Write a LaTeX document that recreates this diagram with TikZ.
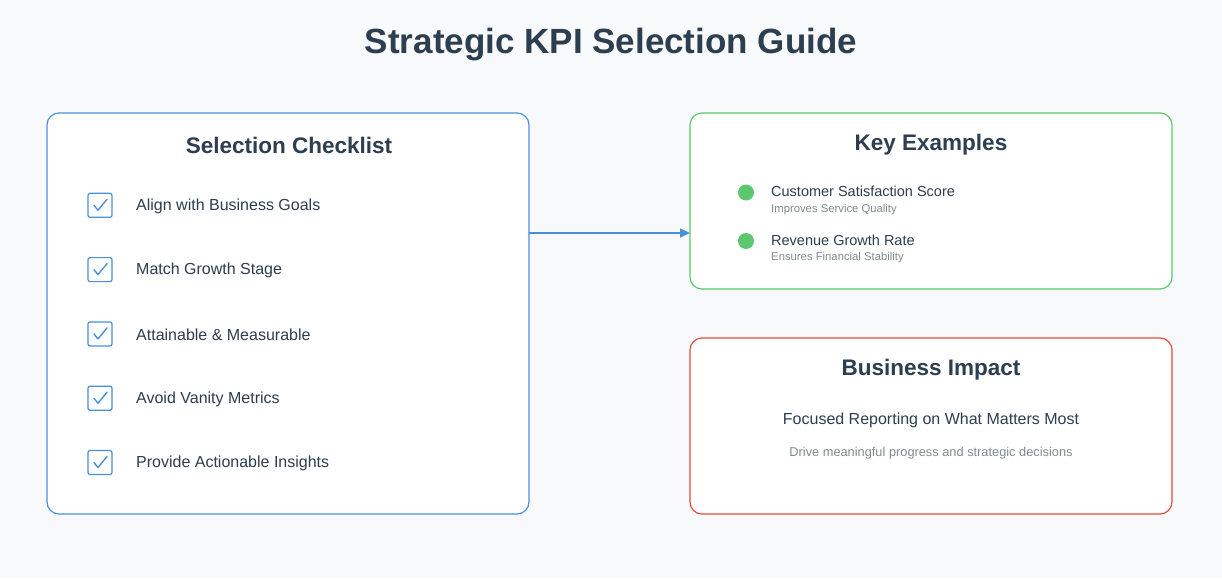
\documentclass[tikz,border=0pt]{standalone}
\usepackage{fontspec}
\setmainfont{Liberation Sans}
\usetikzlibrary{arrows.meta}
\definecolor{ink}{HTML}{2C3E50}
\definecolor{bluec}{HTML}{4A90D9}
\definecolor{greenc}{HTML}{5CC86E}
\definecolor{redc}{HTML}{E34C3C}
\definecolor{greyc}{HTML}{7F8C8D}
\definecolor{bgc}{HTML}{F8F9FA}
\tikzset{
  panel/.style={draw=#1, line width=1.2pt, rounded corners=12pt, fill=white},
  heading/.style={font=\fontsize{22.5}{26}\selectfont\bfseries, text=ink},
  item/.style={anchor=west, inner sep=0pt, font=\fontsize{16}{19}\selectfont, text=ink},
  tick/.style={draw=bluec, line width=1.2pt, rounded corners=2pt, minimum size=24pt, inner sep=0pt},
}
\begin{document}
\begin{tikzpicture}[x=1pt,y=-1pt]
    \fill[bgc] (0,0) rectangle (1222,578);
    \useasboundingbox (0,0) rectangle (1222,578);
    \node[font=\fontsize{35}{40}\selectfont\bfseries, text=ink] (title) at (611,45) {Strategic KPI Selection Guide};

    % checklist panel
    \draw[panel=bluec] (47,113) rectangle (529,514);
    \coordinate (checkR) at (529,233);
    \node[heading] (checkT) at (289,145) {Selection Checklist};
    \foreach \t [count=\i] in {Align with Business Goals, Match Growth Stage, Attainable \& Measurable, Avoid Vanity Metrics, Provide Actionable Insights} {
        \node[tick] (box\i) at (100,141+64.3*\i) {};
        \draw[bluec, line width=1.4pt, line cap=round, line join=round] ([shift={(-6,0)}]box\i.center) -- ++(4,5) -- ++(9,-11);
        \node[item] (chk\i) at (136,142+64.3*\i) {\t};
    }

    % examples panel
    \draw[panel=greenc] (690,113) rectangle (1172,289);
    \coordinate (exL) at (690,233);
    \node[heading] (exT) at (931,145) {Key Examples};
    \foreach \t/\s [count=\i] in {Customer Satisfaction Score/Improves Service Quality, Revenue Growth Rate/Ensures Financial Stability} {
        \fill[greenc] (746,144+48.5*\i) circle (8);
        \node[anchor=west, inner sep=0pt, font=\fontsize{14.5}{17}\selectfont, text=ink] (ex\i) at (771,143+48.5*\i) {\t};
        \node[anchor=west, inner sep=0pt, font=\fontsize{11.3}{13}\selectfont, text=greyc] (exs\i) at (771,161+48.5*\i) {\s};
    }

    % impact panel
    \draw[panel=redc] (690,338) rectangle (1172,514);
    \node[heading] (impT) at (931,370) {Business Impact};
    \node[font=\fontsize{16}{19}\selectfont, text=ink] (impM) at (931,420) {Focused Reporting on What Matters Most};
    \node[font=\fontsize{12.8}{15}\selectfont, text=greyc] (impS) at (931,453) {Drive meaningful progress and strategic decisions};

    \draw[bluec, line width=1.2pt, -{Triangle[length=10pt,width=9pt]}] (checkR) -- (exL);
\end{tikzpicture}
\end{document}
